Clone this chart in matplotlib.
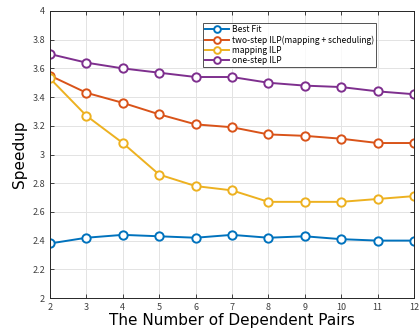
import numpy as np
import matplotlib
matplotlib.use("Agg")
import matplotlib.pyplot as plt

pairs = [2, 3, 4, 5, 6, 7, 8, 9, 10, 11, 12]
best_fit = [2.38, 2.42, 2.44, 2.43, 2.42, 2.44, 2.42, 2.43, 2.41, 2.40, 2.40]
two_step = [3.55, 3.43, 3.36, 3.28, 3.21, 3.19, 3.14, 3.13, 3.11, 3.08, 3.08]
mapping = [3.53, 3.27, 3.08, 2.86, 2.78, 2.75, 2.67, 2.67, 2.67, 2.69, 2.71]
one_step = [3.70, 3.64, 3.60, 3.57, 3.54, 3.54, 3.50, 3.48, 3.47, 3.44, 3.42]

labels = ["Best Fit", "two-step ILP(mapping + scheduling)", "mapping ILP", "one-step ILP"]
colors = ["#0072BD", "#D95319", "#EDB120", "#7E2F8E"]

plt.rcParams['font.family'] = ['Noto Sans CJK JP', 'DejaVu Sans']

fig = plt.figure(figsize=(4.2, 3.35), dpi=100)
ax = fig.add_axes([50/420, 1 - 298/335, 364/420, 287/335])

for ys, lab, c in zip([best_fit, two_step, mapping, one_step], labels, colors):
    ax.plot(pairs, ys, '-o', color=c, lw=1.4, ms=6, mfc='white', mew=1.4, label=lab)

ax.set_xlim(2, 12)
ax.set_ylim(2, 4)
ax.set_xticks(pairs)
ax.set_yticks(np.arange(2, 4.01, 0.2))
ax.set_yticklabels(["2", "2.2", "2.4", "2.6", "2.8", "3", "3.2", "3.4", "3.6", "3.8", "4"])
ax.grid(True, color='#e3e3e3', lw=0.7)
ax.tick_params(direction='in', labelsize=6.5, colors='#262626', labelcolor='#404040',
               length=3, top=True, right=True, width=0.6)
for s in ax.spines.values():
    s.set_color('#262626')
    s.set_linewidth(0.7)

ax.set_xlabel("The Number of Dependent Pairs", fontsize=11, family='DejaVu Sans', labelpad=1)
ax.set_ylabel("Speedup", fontsize=11, family='DejaVu Sans', labelpad=4)

leg = ax.legend(loc='upper right', bbox_to_anchor=(0.896, 0.958), fontsize=6.1,
                frameon=True, fancybox=False, edgecolor='#262626', handlelength=2.9,
                borderpad=0.25, labelspacing=0.15, handletextpad=0.3, markerscale=0.8,
                borderaxespad=0)
leg.get_frame().set_linewidth(0.7)

fig.savefig("out.png", dpi=100)
